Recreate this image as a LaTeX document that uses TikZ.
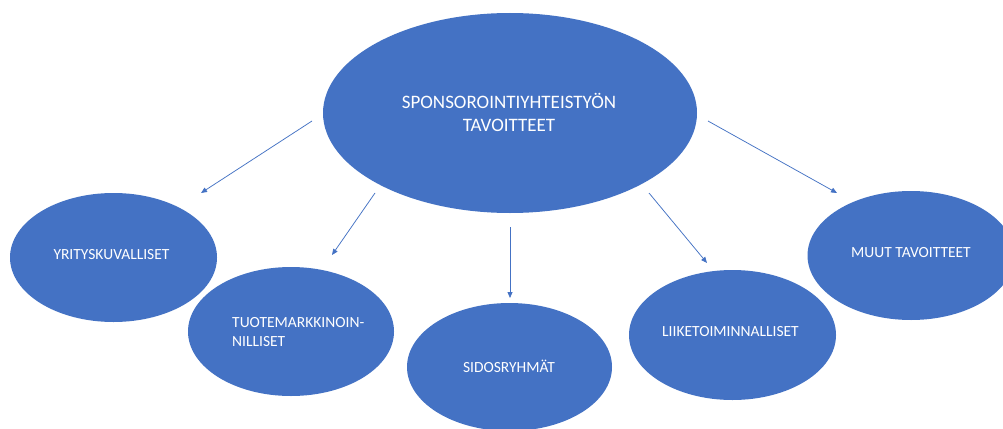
\documentclass[tikz,border=0pt]{standalone}
\usepackage{fontspec}
\setmainfont{Carlito}
\usetikzlibrary{shapes.geometric,arrows.meta}
\definecolor{obl}{HTML}{4472C4}
\begin{document}
\begin{tikzpicture}[x=1pt,y=-1pt,
  oval/.style 2 args={ellipse,fill=obl,draw=none,inner sep=0pt,minimum width=#1pt,minimum height=#2pt},
  lbl/.style={text=white,inner sep=0pt,font=\fontsize{15.5}{19}\selectfont},
  biglbl/.style={text=white,inner sep=0pt,font=\fontsize{19}{23}\selectfont},
  conn/.style={draw=obl,line width=0.75pt,-{Triangle[length=6pt,width=5pt]}}]
\useasboundingbox (0,0) rectangle (1003,428);
\clip (0,0) rectangle (1003,428);
\fill[white] (0,0) rectangle (1003,428);
% ovals
\node[oval={374}{200}] (main) at (510,113) {};
\node[oval={207}{129}] (yri) at (113.5,257.5) {};
\node[oval={206}{129}] (tuo) at (291,331.5) {};
\node[oval={205}{128}] (sid) at (509.5,367) {};
\node[oval={207}{130}] (lii) at (732.5,335) {};
\node[oval={207}{129}] (muu) at (911,255.5) {};
% labels
\node[biglbl,anchor=base,align=center] (tmain) at (509,131) {SPONSOROINTIYHTEISTYÖN\\TAVOITTEET};
\node[lbl,anchor=base] (tyri) at (111.5,259) {YRITYSKUVALLISET};
\node[lbl,anchor=base west,align=left] (ttuo) at (232,346) {TUOTEMARKKINOIN-\\NILLISET};
\node[lbl,anchor=base] (tsid) at (509,372) {SIDOSRYHMÄT};
\node[lbl,anchor=base] (tlii) at (730.5,336) {LIIKETOIMINNALLISET};
\node[lbl,anchor=base] (tmuu) at (911,257) {MUUT TAVOITTEET};
% connector ends
\coordinate (a1s) at (312,121); \coordinate (a1e) at (201,193);
\coordinate (a2s) at (375,193); \coordinate (a2e) at (332,255);
\coordinate (a3s) at (510,227); \coordinate (a3e) at (510,298);
\coordinate (a4s) at (649,193); \coordinate (a4e) at (707,263);
\coordinate (a5s) at (708,121); \coordinate (a5e) at (837,193);
\draw[conn] (a1s) -- (a1e);
\draw[conn] (a2s) -- (a2e);
\draw[conn] (a3s) -- (a3e);
\draw[conn] (a4s) -- (a4e);
\draw[conn] (a5s) -- (a5e);
\end{tikzpicture}
\end{document}
